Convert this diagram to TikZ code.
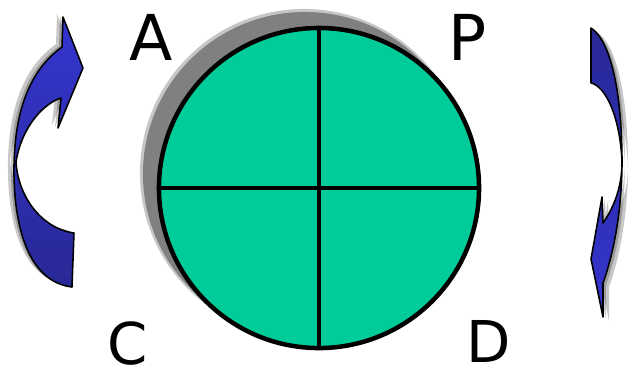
\documentclass[tikz,border=0pt]{standalone}
\usepackage{fontspec}
\setmainfont{DejaVu Sans}

\definecolor{discgreen}{RGB}{0,204,153}
\definecolor{arrowlight}{RGB}{53,53,208}
\definecolor{arrowdark}{RGB}{40,40,150}
\definecolor{shadowgray}{RGB}{128,128,128}

%% outlines of the two turning arrows (pixel coordinates)
\newcommand{\turnleftpath}{%
  (83,68) -- (63,17) -- (62,47)
  .. controls (30,70) and (15,110) .. (14,165)
  .. controls (13,230) and (30,282) .. (72,287)
  -- (74,233)
  .. controls (40,228) and (18,195) .. (16,162)
  .. controls (22,125) and (45,103) .. (61,98)
  -- (58,128) -- cycle}
\newcommand{\turnrightpath}{%
  (591,259) -- (603,317) -- (603,283)
  .. controls (615,250) and (622,205) .. (622,162)
  .. controls (622,90) and (610,40) .. (591,28)
  -- (591,83)
  .. controls (605,86) and (620,115) .. (622,162)
  .. controls (622,190) and (612,210) .. (603,223)
  -- (602,197) -- cycle}

\begin{document}
\begin{tikzpicture}[
    x=0.025cm, y=-0.025cm,
    disc/.style={circle, draw, line width=3.2pt, fill=discgreen, minimum size=8cm, inner sep=0pt},
    shadowdisc/.style={circle, fill=shadowgray, minimum size=8.1cm, inner sep=0pt},
    divider/.style={line width=3.2pt},
    turnarrow/.style={draw, line width=1.1pt, line join=round},
    arrowshadow/.style={fill=black, opacity=0.22},
    letter/.style={anchor=base, inner sep=0pt, text=black},
    biglbl/.style={letter, font=\fontsize{45}{50}\selectfont},
    smalllbl/.style={letter, font=\fontsize{41}{46}\selectfont}
  ]
    \useasboundingbox (0,0) rectangle (631,371);

    %% ── disc with its shadow ──
    \node[shadowdisc, minimum size=8.2cm, opacity=0.45] (halo) at (304,173) {};
    \node[shadowdisc] (shade) at (305,174) {};
    \node[disc] (disc) at (319,188) {};
    \draw[divider] (disc.north) -- (disc.south);
    \draw[divider] (disc.west) -- (disc.east);

    %% ── corner letters ──
    \node[biglbl]   (a) at (151,60)  {A};
    \node[biglbl]   (p) at (468,60)  {P};
    \node[smalllbl] (c) at (128,364) {C};
    \node[smalllbl] (d) at (489,362) {D};

    %% ── left arrow (turning up) ──
    \fill[arrowshadow, shift={(-6,-3)}] \turnleftpath;
    \fill[arrowshadow, shift={(-3,-1)}] \turnleftpath;
    \path[turnarrow, top color=arrowlight, bottom color=arrowdark] \turnleftpath;

    %% ── right arrow (turning down) ──
    \fill[arrowshadow, shift={(6,4)}] \turnrightpath;
    \fill[arrowshadow, shift={(3,2)}] \turnrightpath;
    \path[turnarrow, top color=arrowdark, bottom color=arrowlight] \turnrightpath;

\end{tikzpicture}
\end{document}
